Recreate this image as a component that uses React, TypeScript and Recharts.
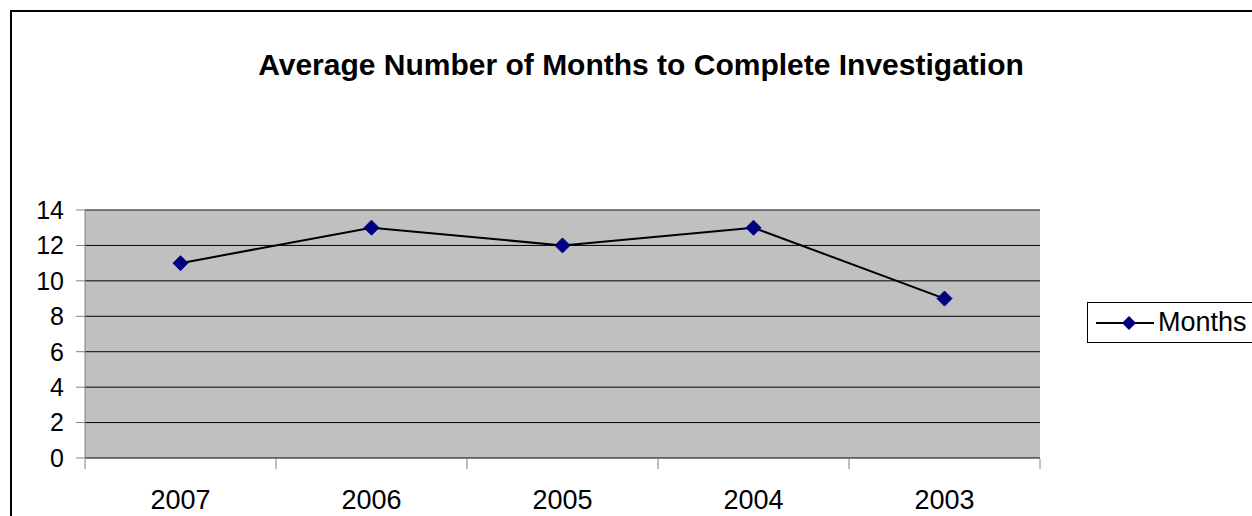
import React from "react"
import { LineChart, Line, XAxis, YAxis, CartesianGrid, ReferenceLine } from "recharts"

const years = ["2007", "2006", "2005", "2004", "2003"]
const months = [11, 13, 12, 13, 9]
const yTicks = [0, 2, 4, 6, 8, 10, 12, 14]
const bandEdges = [0, 1, 2, 3, 4, 5]

const data = years.map((year, i) => ({ year, months: months[i] }))

const FONT = "Arial, 'Liberation Sans', sans-serif"
const NAVY = "#000080"

function Diamond(props: any) {
  const { cx, cy } = props
  if (cx == null || cy == null) return null
  const r = 7.5
  return (
    <polygon
      points={`${cx},${cy - r} ${cx + r},${cy} ${cx},${cy + r} ${cx - r},${cy}`}
      fill={NAVY}
      stroke={NAVY}
    />
  )
}

// tick marks only, no labels
const NoLabel = () => <g />

export default function App() {
  return (
    <div
      style={{
        position: "absolute",
        left: 0,
        top: 0,
        width: 1252,
        height: 516,
        overflow: "hidden",
        background: "#fff",
        fontFamily: FONT,
      }}
    >
      {/* outer chart frame, runs off the right and bottom edges */}
      <div
        style={{
          position: "absolute",
          left: 10,
          top: 10,
          width: 1260,
          height: 530,
          border: "2px solid #000",
        }}
      />

      <div
        style={{
          position: "absolute",
          left: 0,
          width: 1282,
          top: 50,
          textAlign: "center",
          fontWeight: "bold",
          fontSize: 30,
          lineHeight: "30px",
          color: "#000",
        }}
      >
        Average Number of Months to Complete Investigation
      </div>

      <div style={{ position: "absolute", left: 0, top: 0 }}>
        <LineChart
          width={1252}
          height={516}
          data={data}
          margin={{ top: 210, right: 212, left: 10, bottom: 0 }}
        >
          <CartesianGrid
            xAxisId="cat"
            yAxisId="left"
            vertical={false}
            stroke="#000"
            fill="#C0C0C0"
            fillOpacity={1}
          />
          {/* boundary tick marks between the year bands */}
          <XAxis
            xAxisId="frame"
            type="number"
            dataKey="months"
            domain={[0, 5]}
            allowDataOverflow
            ticks={bandEdges}
            interval={0}
            tick={NoLabel}
            tickSize={10}
            height={57}
            stroke="#808080"
            axisLine={false}
          />
          <XAxis
            xAxisId="cat"
            dataKey="year"
            scale="band"
            axisLine={false}
            tickLine={false}
            tickSize={0}
            tickMargin={32}
            height={1}
            tick={{ fontSize: 27, fill: "#000", fontFamily: FONT }}
          />
          <YAxis
            yAxisId="left"
            domain={[0, 14]}
            ticks={yTicks}
            width={75}
            tickSize={9}
            tickMargin={12}
            stroke="#808080"
            tick={{ fontSize: 25, fill: "#000", fontFamily: FONT }}
          />
          <YAxis
            yAxisId="right"
            orientation="right"
            domain={[0, 14]}
            width={0}
            tick={false}
            tickLine={false}
            stroke="#808080"
          />
          <ReferenceLine yAxisId="left" xAxisId="cat" y={14} stroke="#808080" />
          <Line
            xAxisId="cat"
            yAxisId="left"
            dataKey="months"
            stroke="#000"
            strokeWidth={2}
            dot={<Diamond />}
            activeDot={false}
            isAnimationActive={false}
          />
        </LineChart>
      </div>

      {/* legend */}
      <div
        style={{
          position: "absolute",
          left: 1087,
          top: 302,
          width: 180,
          height: 39,
          border: "1px solid #000",
          background: "#fff",
          display: "flex",
          alignItems: "center",
        }}
      >
        <svg width={66} height={20} style={{ marginLeft: 4 }}>
          <line x1={4} y1={10} x2={62} y2={10} stroke="#000" strokeWidth={2} />
          <polygon points="37,3 44,10 37,17 30,10" fill={NAVY} />
        </svg>
        <span style={{ fontSize: 27, color: "#000", marginLeft: 0 }}>Months</span>
      </div>
    </div>
  )
}
